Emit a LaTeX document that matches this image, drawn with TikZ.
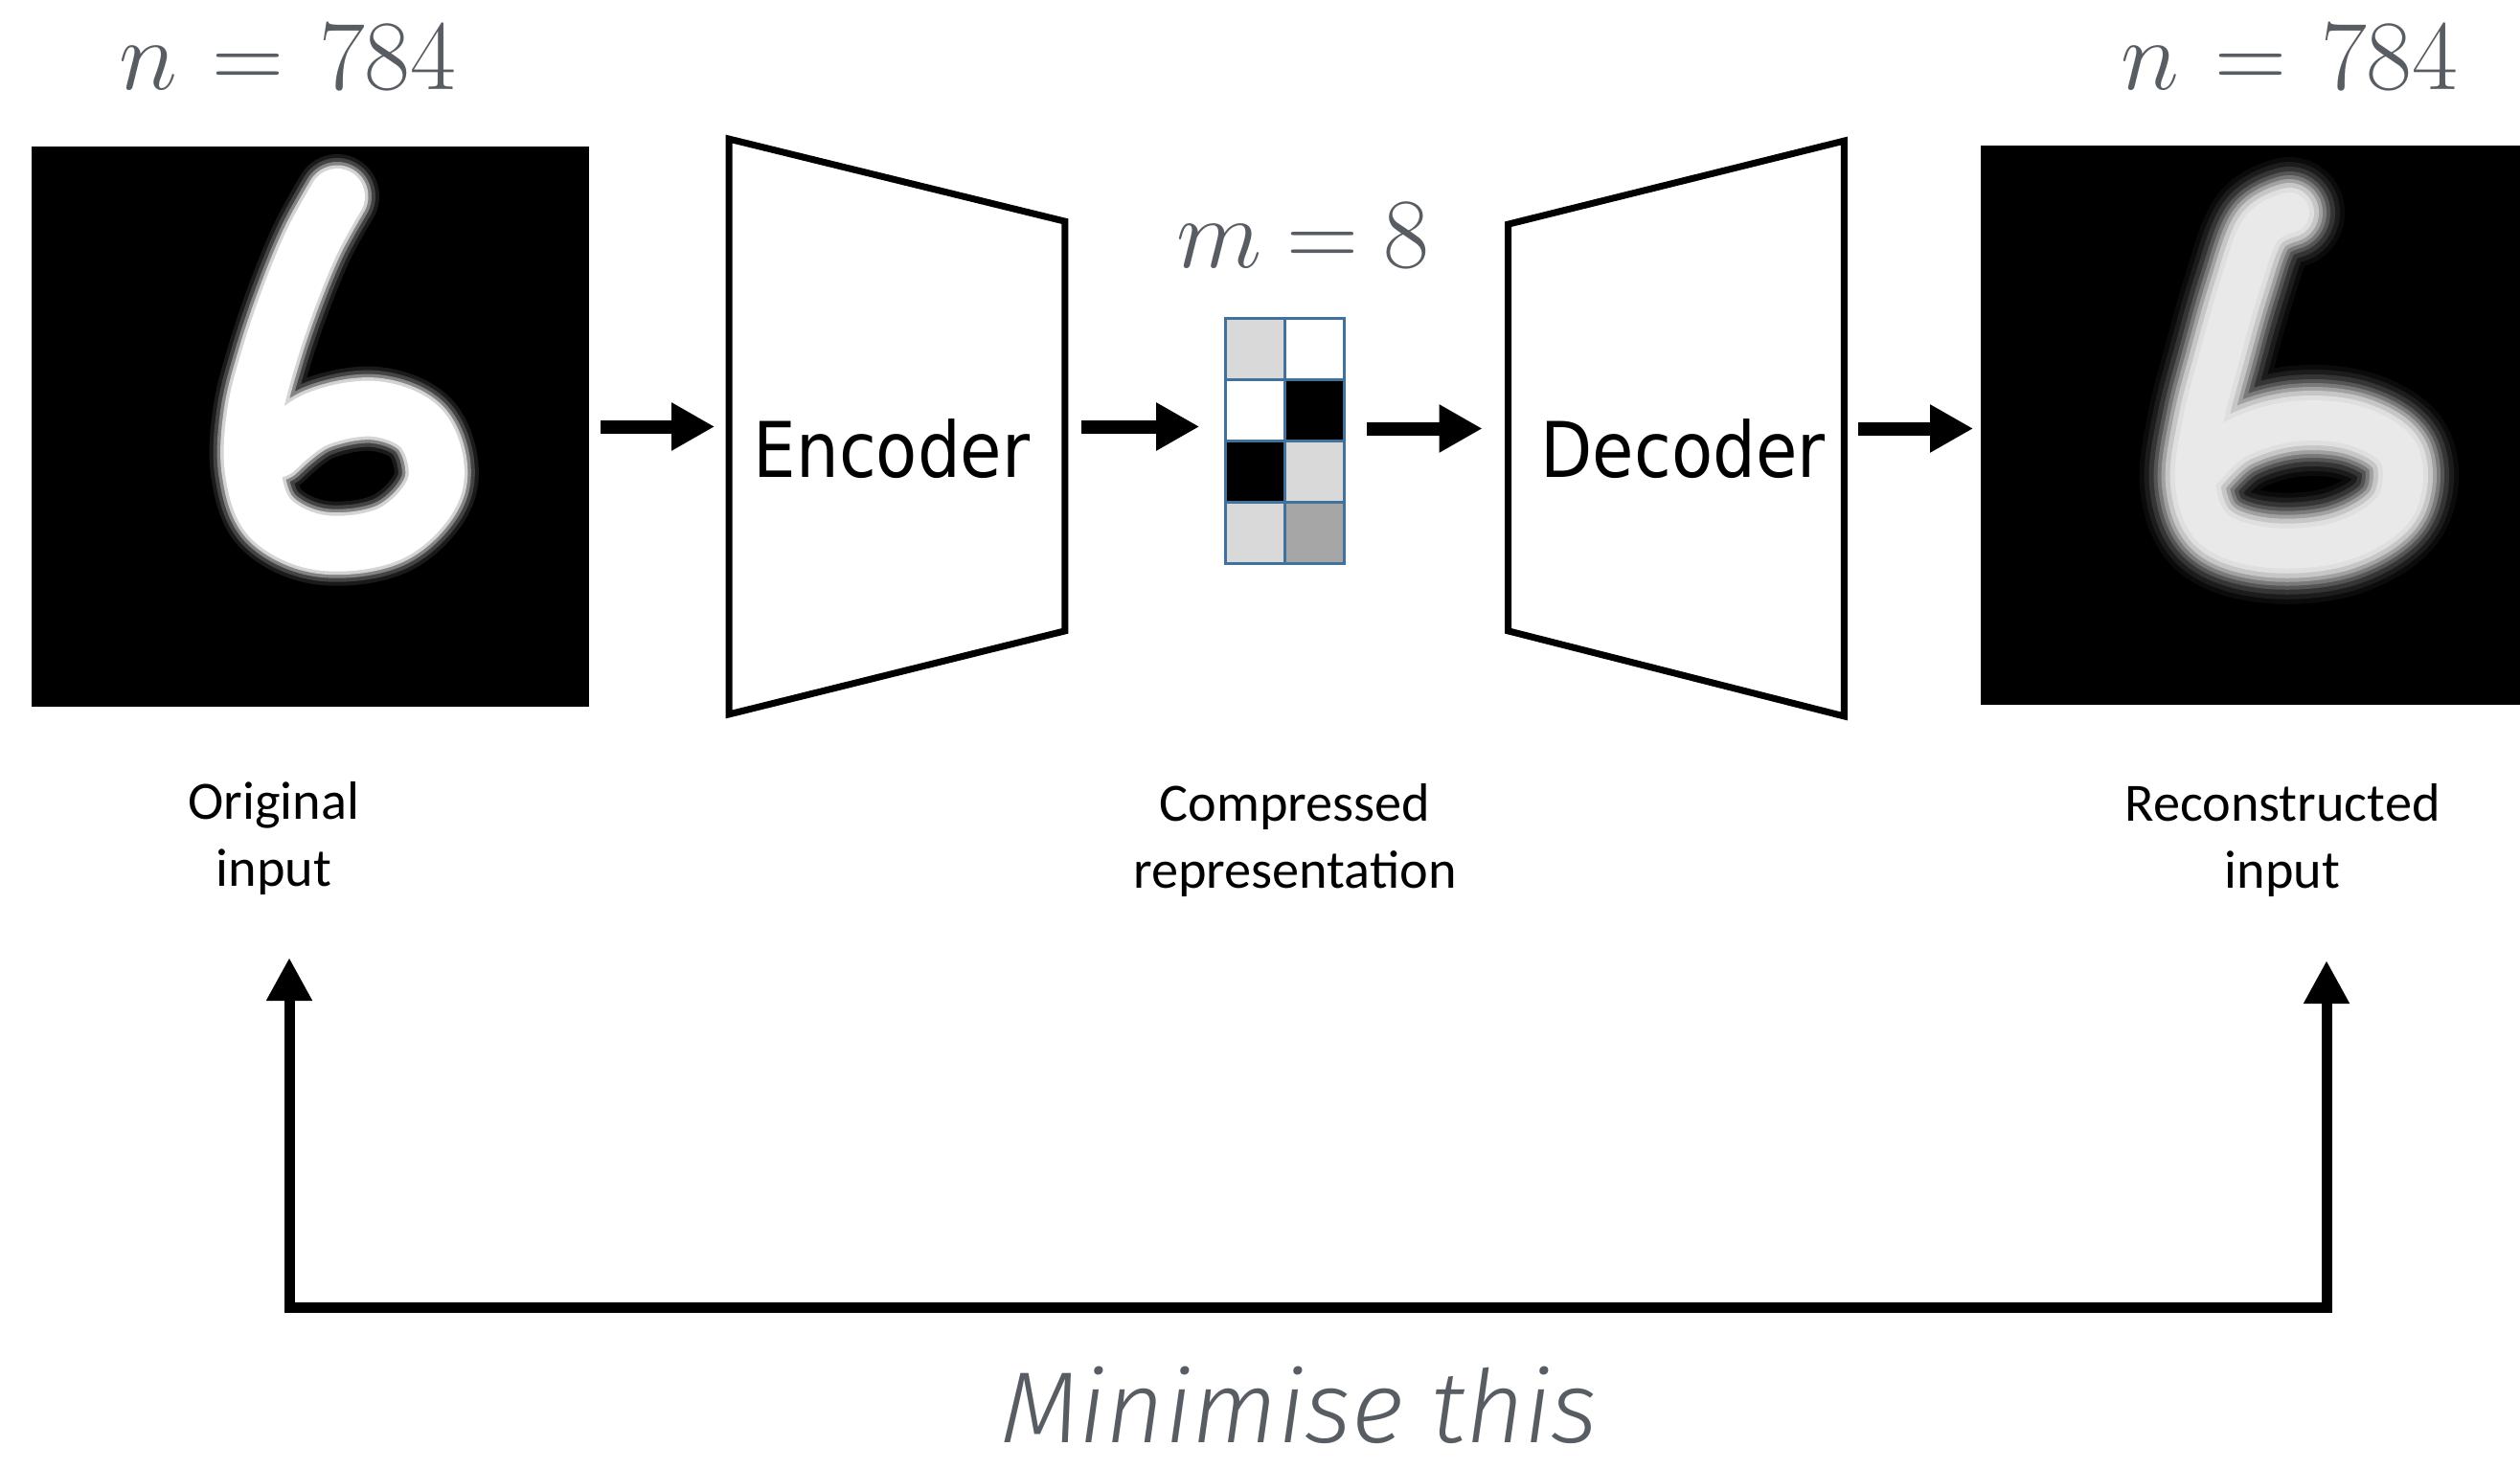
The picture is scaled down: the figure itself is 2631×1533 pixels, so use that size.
\RequirePackage{fix-cm}
\documentclass[tikz,border=0pt]{standalone}
\usepackage[no-math]{fontspec}
\usetikzlibrary{arrows.meta,calc}
\newfontfamily\labelfont{Carlito}
\newfontfamily\blockfont{DejaVu Sans}[FakeStretch=0.88]
\newfontfamily\notefont{Fira Sans Light Italic}
\definecolor{notegray}{RGB}{88,93,99}
\definecolor{cellblue}{RGB}{65,113,156}
\definecolor{celllight}{RGB}{217,217,217}
\definecolor{celldark}{RGB}{166,166,166}

% "symbol = value", with a given adjustment (in mu) around the equals sign
\newcommand\dimeq[3]{$#1\mkern#3mu=\mkern#3mu#2$}

\tikzset{
  flow/.style={line width=0.14cm, -{Triangle[length=0.45cm,width=0.47cm]}},
  fbline/.style={line width=0.11cm, line join=miter,
    {Triangle[length=0.45cm,width=0.45cm]}-{Triangle[length=0.45cm,width=0.45cm]}},
  picbox/.style={fill=black, draw=none, inner sep=0, minimum width=#1},
  block/.style={draw=none, inner sep=0, minimum width=3.49cm, minimum height=5.99cm},
  blockline/.style={line width=0.07cm, line join=miter},
  blocktext/.style={font=\blockfont\fontsize{22.8}{27}\selectfont, anchor=base, inner sep=0},
  dimtext/.style={text=notegray, font=\fontsize{29.6}{35}\selectfont, anchor=base west, inner sep=0},
  caption/.style={font=\labelfont\fontsize{16}{19.9}\selectfont, align=center, anchor=base, inner sep=0},
  cell/.style={draw=cellblue, line width=0.03cm},
  stroke/.style={line cap=round, line join=round},
}

\begin{document}
\begin{tikzpicture}[x=0.01cm, y=-0.01cm]
\fill[white] (0,0) rectangle (2631,1533);
\useasboundingbox (0,0) rectangle (2631,1533);

% input and output images
\node[picbox=5.82cm, minimum height=5.85cm] (orig) at (324,445.5) {};
\node[picbox=5.63cm, minimum height=5.84cm] (recon) at (2349.5,444) {};

% handwritten six, input
\begin{scope}
  \clip (orig.south west) rectangle (orig.north east);
  \foreach \w/\o in {88/0.10, 80/0.18, 72/0.35, 65/0.65, 58/1}
    \draw[white, opacity=\o, line width={\w*0.2845pt}, stroke]
      plot[smooth, tension=0.6] coordinates {(352,205) (326,252) (302,310) (281,372) (266,432) (264,492) (283,542) (338,567) (410,556) (454,507) (442,450) (392,427) (330,438) (288,470)};
\end{scope}

% reconstructed six, blurred
\begin{scope}
  \clip (recon.south west) rectangle (recon.north east);
  \foreach \w/\o in {116/0.05, 106/0.08, 96/0.12, 86/0.18, 78/0.25, 70/0.35, 62/0.5, 52/0.7, 42/0.85}
    \draw[white!92!black, opacity=\o, line width={\w*0.2845pt}, stroke]
      plot[smooth, tension=0.6] coordinates {(2390,222) (2360,240) (2338,300) (2318,370) (2300,440) (2292,505) (2312,553) (2370,572) (2445,565) (2500,530) (2505,475) (2460,445) (2395,440) (2335,458) (2300,490)};
\end{scope}

% encoder and decoder blocks
\node[block] (enc) at (936.5,445.5) {};
\draw[blockline] (enc.north west) -- ($(enc.north east)+(0,86)$)
  -- ($(enc.south east)+(0,-87)$) -- (enc.south west) -- cycle;
\node[blocktext] (enclbl) at (931,498) {Encoder};

\node[block] (dec) at (1750,447.5) {};
\draw[blockline] (dec.north east) -- (dec.south east)
  -- ($(dec.south west)+(0,-89)$) -- ($(dec.north west)+(0,87)$) -- cycle;
\node[blocktext] (declbl) at (1757,498) {Decoder};

% latent code
\node[draw=none, inner sep=0, minimum width=1.24cm, minimum height=2.56cm] (code) at (1341,460) {};
\foreach \c/\r/\col in {0/0/celllight, 1/0/white, 0/1/white, 1/1/black,
                         0/2/black, 1/2/celllight, 0/3/celllight, 1/3/celldark}
  \filldraw[fill=\col, cell] ({1279+62*\c},{332+64*\r}) rectangle ++(62,64);

% dimensions
\node[dimtext] (nin) at (124,93) {\dimeq{n}{784}{1.3}};
\node[dimtext] (nout) at (2214,93) {\dimeq{n}{784}{1.3}};
\node[dimtext] (mdim) at (1228,279) {\dimeq{m}{8}{-0.5}};

% data flow
\draw[flow, shorten <=0.11cm, shorten >=0.15cm] (orig.east) -- (enc.west);
\draw[flow, shorten <=0.17cm, shorten >=0.26cm] (enc.east) -- (enc.east -| code.west);
\draw[flow, shorten <=0.23cm, shorten >=0.27cm] (code.east |- dec.west) -- (dec.west);
\draw[flow, shorten <=0.15cm, shorten >=0.07cm] (dec.east) -- (dec.east -| recon.west);

% captions (anchored on the baseline of the last line)
\node[caption] (origlbl) at (286,925) {Original\\input};
\node[caption] (codelbl) at (1352,927) {Compressed\\representation};
\node[caption] (reconlbl) at (2383,927) {Reconstructed\\input};

% reconstruction loss loop
\coordinate (tipL) at (302,1000);
\coordinate (cornerL) at (302,1365);
\coordinate (cornerR) at (2429,1365);
\coordinate (tipR) at (2429,1003);
\draw[fbline] (tipL) -- (cornerL) -- (cornerR) -- (tipR);

\node[font=\notefont\fontsize{30}{36}\selectfont, text=notegray, anchor=base, inner sep=0] (goal) at (1357,1506) {Minimise this};
\end{tikzpicture}
\end{document}
